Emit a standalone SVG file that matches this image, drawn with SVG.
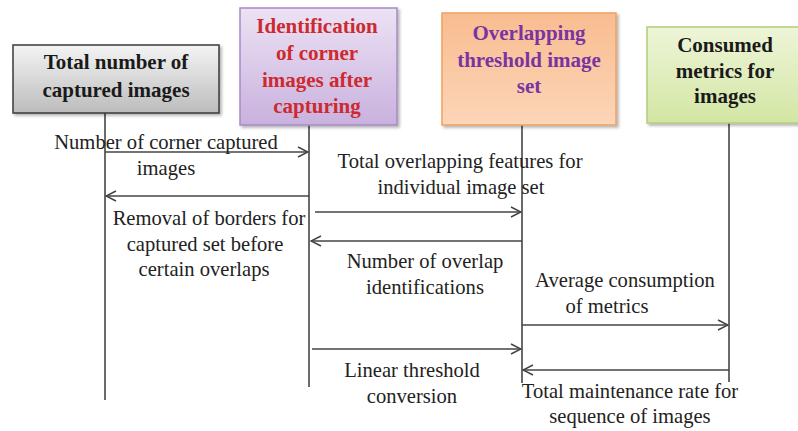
<svg xmlns="http://www.w3.org/2000/svg" width="798" height="431" viewBox="0 0 798 431">
<style>
.t{font-family:"Liberation Serif","Times New Roman",serif;font-size:20.6px;fill:#222;text-anchor:middle}
.h{font-family:"Liberation Serif","Times New Roman",serif;font-size:21px;font-weight:bold;text-anchor:middle}
.life{stroke:#6a6a6a;stroke-width:2;fill:none}
.msg{stroke:#444;stroke-width:1.5;fill:none}
</style>
<defs>
<linearGradient id="gGray" x1="0" y1="0" x2="0" y2="1"><stop offset="0" stop-color="#f4f4f4"/><stop offset="1" stop-color="#bcbcbc"/></linearGradient>
<linearGradient id="gPurple" x1="0" y1="0" x2="0" y2="1"><stop offset="0" stop-color="#ece2f4"/><stop offset="1" stop-color="#c9b1de"/></linearGradient>
<linearGradient id="gOrange" x1="0" y1="0" x2="0" y2="1"><stop offset="0" stop-color="#f9bc90"/><stop offset="1" stop-color="#fcd6b8"/></linearGradient>
<linearGradient id="gGreen" x1="0" y1="0" x2="0" y2="1"><stop offset="0" stop-color="#eef5d8"/><stop offset="1" stop-color="#d3e6a4"/></linearGradient>
<filter id="sh" x="-10%" y="-10%" width="130%" height="130%"><feDropShadow dx="2" dy="2" stdDeviation="1.5" flood-color="#000" flood-opacity="0.3"/></filter>
<marker id="ah" viewBox="0 0 12 12" refX="11" refY="6" markerWidth="12" markerHeight="12" markerUnits="userSpaceOnUse" orient="auto"><path d="M1,1 L11,6 L1,11" fill="none" stroke="#444" stroke-width="1.5"/></marker>
</defs>
<rect width="798" height="431" fill="#fff"/>

<g id="connectors">
<line class="life" x1="105" y1="113" x2="105" y2="400"/>
<line class="life" x1="309" y1="125" x2="309" y2="387"/>
<line class="life" x1="522" y1="125" x2="522" y2="383"/>
<line class="life" x1="729" y1="123" x2="729" y2="382"/>
<line class="msg" x1="105" y1="152" x2="308" y2="152" marker-end="url(#ah)"/>
<line class="msg" x1="309" y1="196" x2="106" y2="196" marker-end="url(#ah)"/>
<line class="msg" x1="315" y1="212" x2="521" y2="212" marker-end="url(#ah)"/>
<line class="msg" x1="522" y1="241" x2="311" y2="241" marker-end="url(#ah)"/>
<line class="msg" x1="522" y1="325" x2="728" y2="325" marker-end="url(#ah)"/>
<line class="msg" x1="312" y1="349" x2="521" y2="349" marker-end="url(#ah)"/>
<line class="msg" x1="729" y1="370" x2="523" y2="370" marker-end="url(#ah)"/>
<text class="t" x="166" y="149">Number of corner captured</text>
<text class="t" x="166" y="175">images</text>
<text class="t" x="209" y="225">Removal of borders for</text>
<text class="t" x="205" y="251">captured set before</text>
<text class="t" x="204" y="276">certain overlaps</text>
<text class="t" x="460" y="168">Total overlapping features for</text>
<text class="t" x="461" y="194">individual image set</text>
<text class="t" x="425" y="268">Number of overlap</text>
<text class="t" x="425" y="294">identifications</text>
<text class="t" x="625" y="287">Average consumption</text>
<text class="t" x="607" y="313">of metrics</text>
<text class="t" x="412" y="377">Linear threshold</text>
<text class="t" x="412" y="403">conversion</text>
<text class="t" x="630" y="398">Total maintenance rate for</text>
<text class="t" x="630" y="423">sequence of images</text>
</g>

<g id="node1">
<rect x="13" y="45" width="206" height="68" fill="url(#gGray)" stroke="#3a3a3a" stroke-width="1.5" filter="url(#sh)"/>
<text class="h" x="116" y="69" fill="#1a1a1a">Total number of</text>
<text class="h" x="116" y="97" fill="#1a1a1a">captured images</text>
</g>
<g id="node2">
<rect x="240" y="8" width="157" height="117" fill="url(#gPurple)" stroke="#a78ac6" stroke-width="1.5" filter="url(#sh)"/>
<text class="h" x="317" y="33" fill="#cc2a2f">Identification</text>
<text class="h" x="317" y="60" fill="#cc2a2f">of corner</text>
<text class="h" x="317" y="87" fill="#cc2a2f">images after</text>
<text class="h" x="317" y="113" fill="#cc2a2f">capturing</text>
</g>
<g id="node3">
<rect x="442" y="13" width="174" height="112" fill="url(#gOrange)" stroke="#f0a060" stroke-width="1.5" filter="url(#sh)"/>
<text class="h" x="529" y="40" fill="#7a34a2">Overlapping</text>
<text class="h" x="529" y="67" fill="#7a34a2">threshold image</text>
<text class="h" x="529" y="93" fill="#7a34a2">set</text>
</g>
<g id="node4">
<rect x="647" y="27" width="156" height="96" fill="url(#gGreen)" stroke="#b2cd7a" stroke-width="1.5" filter="url(#sh)"/>
<text class="h" x="725" y="52" fill="#1a1a1a">Consumed</text>
<text class="h" x="725" y="78" fill="#1a1a1a">metrics for</text>
<text class="h" x="725" y="103" fill="#1a1a1a">images</text>
</g>
</svg>
